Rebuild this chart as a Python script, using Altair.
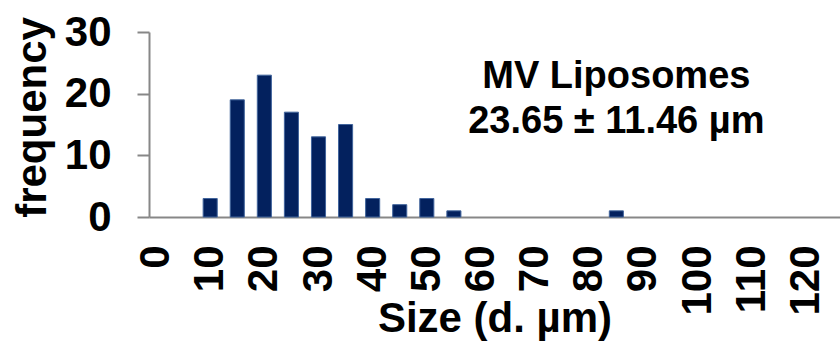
import altair as alt
import pandas as pd

# Histogram bins (d. µm) and their counts
sizes = list(range(0, 130, 5))
counts = [0, 0, 3, 19, 23, 17, 13, 15, 3, 2, 3, 1, 0,
          0, 0, 0, 0, 1, 0, 0, 0, 0, 0, 0, 0, 0]
tick_labels = list(range(0, 130, 10))
y_ticks = [0, 10, 20, 30]

annotation_lines = ["MV Liposomes", "23.65 ± 11.46 µm"]
annotation_bin = [85]
annotation_level = [20.9]

FONT = "Liberation Sans"
AXIS_GREY = "#878787"
AXIS_FS = 42

hist = pd.DataFrame({"size": sizes, "frequency": counts})
note = pd.DataFrame({"size": annotation_bin, "frequency": annotation_level})

x_enc = alt.X(
    "size:O",
    sort=sizes,
    scale=alt.Scale(domain=sizes, paddingInner=0.48, paddingOuter=0),
    axis=alt.Axis(
        values=tick_labels,
        title="Size (d. µm)",
        labelAngle=270,
        labelAlign="right",
        labelBaseline="middle",
        labelPadding=28,
        ticks=False,
        tickSize=0,
        labelFont=FONT,
        labelFontSize=AXIS_FS,
        labelFontWeight="bold",
        labelColor="black",
        titleFont=FONT,
        titleFontSize=AXIS_FS,
        titleFontWeight="bold",
        titleColor="black",
        titleBaseline="alphabetic",
        titleY=114,
        domainColor=AXIS_GREY,
        domainWidth=2,
        grid=False,
    ),
)

y_enc = alt.Y(
    "frequency:Q",
    scale=alt.Scale(domain=[0, 30], nice=False, zero=True),
    axis=alt.Axis(
        values=y_ticks,
        title="frequency",
        labelPadding=26,
        tickSize=12,
        tickWidth=2,
        tickColor=AXIS_GREY,
        domainColor=AXIS_GREY,
        domainWidth=2,
        labelFont=FONT,
        labelFontSize=AXIS_FS,
        labelFontWeight="bold",
        labelColor="black",
        titleFont=FONT,
        titleFontSize=AXIS_FS,
        titleFontWeight="bold",
        titleColor="black",
        titleAngle=270,
        titleAlign="center",
        titleBaseline="alphabetic",
        titleX=-104,
        titleY=85,
        grid=False,
    ),
)

# empty bins get no bar at all
bars = alt.Chart(hist).transform_filter(
    alt.datum.frequency > 0
).mark_bar(
    color="#03215e", stroke="#41649c", strokeWidth=1
).encode(x=x_enc, y=y_enc)

label = alt.Chart(note).mark_text(
    text=annotation_lines,
    font=FONT,
    fontSize=38,
    fontWeight="bold",
    color="black",
    align="center",
    baseline="alphabetic",
    lineHeight=45,
).encode(
    x=alt.X("size:O", sort=sizes),
    y=alt.Y("frequency:Q"),
)

chart = (
    alt.layer(bars, label)
    .properties(
        width=691,
        height=185,
        autosize=alt.AutoSizeParams(type="none"),
        padding={"left": 149, "top": 32, "right": 0, "bottom": 125},
        background="white",
    )
    .configure_view(stroke=None)
)

chart.save("out.html", embed_options={"renderer": "svg", "actions": False})
